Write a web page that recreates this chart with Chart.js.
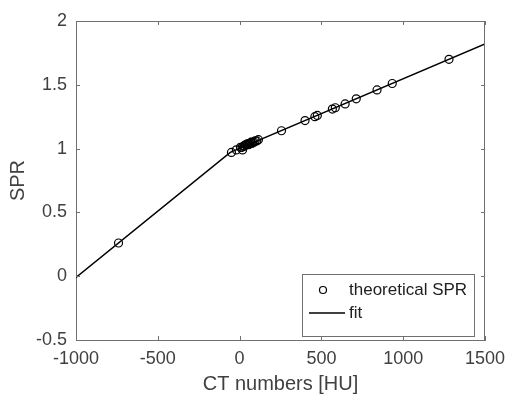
<!DOCTYPE html>
<html>
<head>
<meta charset="utf-8">
<script src="https://cdn.jsdelivr.net/npm/chart.js@4/dist/chart.umd.min.js"></script>
<style>
html,body{margin:0;padding:0;background:#fff;}
#wrap{width:510px;height:399px;position:relative;}
</style>
</head>
<body>
<div id="wrap"><canvas id="c" width="510" height="399"></canvas></div>
<script>
// Data
const ctNumbers = [-740, -50, -20, 18, 5, 15, 25, 30, 35, 40, 45, 50, 55, 60, 65, 70, 75, 80, 88, 95, 105, 115, 256, 400, 460, 475, 567, 585, 645, 713, 840, 933, 1280];
const theoreticalSPR = [0.26, 0.97, 0.99, 0.99, 1.01, 1.01, 1.02, 1.02, 1.03, 1.03, 1.03, 1.04, 1.03, 1.04, 1.04, 1.05, 1.04, 1.05, 1.05, 1.06, 1.06, 1.07, 1.14, 1.22, 1.25, 1.26, 1.31, 1.32, 1.35, 1.39, 1.46, 1.51, 1.70];
const fitX = [-1000, -57, 1500];
const fitY = [-0.01, 0.97, 1.82];
const xTicks = [-1000, -500, 0, 500, 1000, 1500];
const yTicks = [-0.5, 0, 0.5, 1, 1.5, 2];

const textColor = '#404040';
const axisColor = '#707070';
const FONT = "'Liberation Sans', Arial, sans-serif";

const boxTicks = {
  id: 'boxTicks',
  afterDatasetsDraw(chart) {
    const {ctx, chartArea: a, scales} = chart;
    ctx.save();
    ctx.strokeStyle = axisColor;
    ctx.lineWidth = 1;
    ctx.beginPath();
    ctx.moveTo(a.left, a.top + 0.5); ctx.lineTo(a.right, a.top + 0.5);
    ctx.moveTo(a.right - 0.5, a.top); ctx.lineTo(a.right - 0.5, a.bottom);
    const L = 4;
    xTicks.forEach(v => {
      const px = Math.round(scales.x.getPixelForValue(v)) + 0.5;
      ctx.moveTo(px, a.bottom); ctx.lineTo(px, a.bottom - L);
      ctx.moveTo(px, a.top); ctx.lineTo(px, a.top + L);
    });
    yTicks.forEach(v => {
      const py = Math.round(scales.y.getPixelForValue(v)) + 0.5;
      ctx.moveTo(a.left, py); ctx.lineTo(a.left + L, py);
      ctx.moveTo(a.right, py); ctx.lineTo(a.right - L, py);
    });
    ctx.stroke();

    // legend box inside the axes (south-east)
    const lx = a.right - 183, ly = a.bottom - 66, lw = 172, lh = 62;
    ctx.fillStyle = '#fff';
    ctx.fillRect(lx, ly, lw, lh);
    ctx.strokeStyle = axisColor;
    ctx.strokeRect(lx + 0.5, ly + 0.5, lw, lh);
    const ds = chart.data.datasets;
    ctx.font = '17px ' + FONT;
    ctx.fillStyle = '#202020';
    ctx.textBaseline = 'middle';
    ctx.textAlign = 'left';
    ctx.strokeStyle = '#000';
    ctx.lineWidth = 1.2;
    ctx.beginPath();
    ctx.arc(lx + 21, ly + 16, 3.5, 0, Math.PI * 2);
    ctx.stroke();
    ctx.fillText(ds[0].label, lx + 47, ly + 16);
    ctx.lineWidth = 1.5;
    ctx.beginPath();
    ctx.moveTo(lx + 7, ly + 39); ctx.lineTo(lx + 43, ly + 39);
    ctx.stroke();
    ctx.fillText(ds[1].label, lx + 47, ly + 39);
    ctx.restore();
  }
};

new Chart(document.getElementById('c'), {
  type: 'scatter',
  data: {
    datasets: [
      {
        label: 'theoretical SPR',
        data: ctNumbers.map((x, i) => ({x: x, y: theoreticalSPR[i]})),
        showLine: false,
        pointStyle: 'circle',
        pointRadius: 4,
        pointBorderWidth: 1.2,
        borderColor: '#000',
        backgroundColor: 'rgba(0,0,0,0)',
        order: 1
      },
      {
        label: 'fit',
        data: fitX.map((x, i) => ({x: x, y: fitY[i]})),
        showLine: true,
        pointRadius: 0,
        borderColor: '#000',
        borderWidth: 1.5,
        tension: 0,
        order: 2
      }
    ]
  },
  options: {
    responsive: false,
    animation: false,
    layout: {padding: {top: 21, right: 25, left: 0, bottom: 0}},
    plugins: {legend: {display: false}, tooltip: {enabled: false}},
    scales: {
      x: {
        type: 'linear', min: -1000, max: 1500,
        afterBuildTicks: s => { s.ticks = xTicks.map(v => ({value: v})); },
        afterFit: s => { s.height = 59; s.paddingLeft = 0; s.paddingRight = 0; },
        grid: {display: false, drawTicks: false},
        border: {display: true, color: axisColor, width: 1},
        ticks: {color: textColor, font: {family: FONT, size: 18}, padding: 8, maxRotation: 0, callback: v => String(v)},
        title: {display: true, text: 'CT numbers [HU]', color: textColor, font: {family: FONT, size: 20}, padding: {top: 0, bottom: 3}}
      },
      y: {
        type: 'linear', min: -0.5, max: 2,
        afterBuildTicks: s => { s.ticks = yTicks.map(v => ({value: v})); },
        afterFit: s => { s.width = 76; s.paddingTop = 0; s.paddingBottom = 0; },
        grid: {display: false, drawTicks: false},
        border: {display: true, color: axisColor, width: 1},
        ticks: {color: textColor, font: {family: FONT, size: 18}, padding: 9, callback: v => String(v)},
        title: {display: true, text: 'SPR', color: textColor, font: {family: FONT, size: 20}, padding: {top: 6, bottom: 0}}
      }
    }
  },
  plugins: [boxTicks]
});
</script>
</body>
</html>
